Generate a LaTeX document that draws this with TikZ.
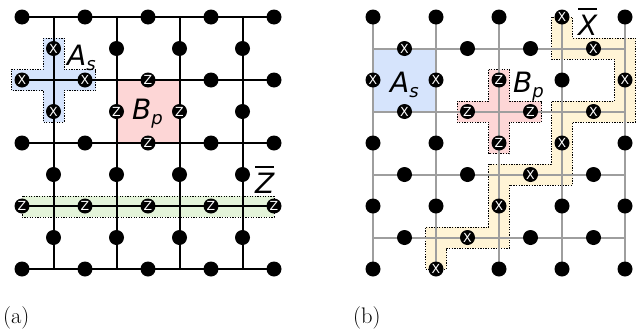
\documentclass[tikz,border=0pt]{standalone}
\usepackage{fontspec}
\newfontfamily\dvs{DejaVu Sans}
\usetikzlibrary{backgrounds}
\definecolor{cblue}{HTML}{D6E4FC}
\definecolor{cpink}{HTML}{FDD6D6}
\definecolor{cgreen}{HTML}{E4F4DA}
\definecolor{cyellow}{HTML}{FFF4D6}
\definecolor{cgray}{HTML}{9E9E9E}
\def\setlab#1#2{\expandafter\def\csname qlab-#1\endcsname{#2}}
\newcommand\qlab[1]{\ifcsname qlab-#1\endcsname\csname qlab-#1\endcsname\fi}
% panel (a)
\setlab{ah10}{X}\setlab{ah11}{X}\setlab{av00}{X}\setlab{av10}{X}
\setlab{ah12}{Z}\setlab{ah22}{Z}\setlab{av11}{Z}\setlab{av12}{Z}
\setlab{ah30}{Z}\setlab{ah31}{Z}\setlab{ah32}{Z}\setlab{ah33}{Z}\setlab{ah34}{Z}
% panel (b)
\setlab{bv03}{X}\setlab{bh00}{X}\setlab{bh03}{X}\setlab{bv10}{X}\setlab{bv11}{X}
\setlab{bv14}{X}\setlab{bh10}{X}\setlab{bh13}{X}\setlab{bv23}{X}\setlab{bh22}{X}
\setlab{bv32}{X}\setlab{bh31}{X}\setlab{bv41}{X}
\setlab{bv12}{Z}\setlab{bh11}{Z}\setlab{bh12}{Z}\setlab{bv22}{Z}
\tikzset{
  qubit/.style={circle, fill=black, minimum size=15pt, inner sep=0pt, text=white,
    font=\dvs\fontsize{12.5}{12.5}\selectfont},
  latA/.style={line width=2pt, draw=black},
  latB/.style={line width=2pt, draw=cgray},
  region/.style={draw=black, line width=0.9pt, dash pattern=on 1.3pt off 1.3pt},
  lbl/.style={anchor=base west, inner sep=0pt, font=\dvs\itshape\fontsize{28}{28}\selectfont},
  capt/.style={anchor=base west, inner sep=0pt, font=\fontsize{22.5}{22.5}\selectfont}
}
\newcommand\sub[1]{\raisebox{-5pt}{\fontsize{18}{18}\selectfont #1}}
\newcommand\obar[1]{\vbox{\hrule height 1.8pt\kern 5pt\hbox{#1}}}
\begin{document}
\begin{tikzpicture}[x=1pt, y=-1pt]
\path[use as bounding box] (0,0) rectangle (641,335);
% ---------- panel (a) qubits
\foreach \rr in {0,...,4}{\foreach \cc in {0,...,4}{
  \node[qubit] (ah\rr\cc) at ({22+63*\cc},{17+63*\rr}) {\qlab{ah\rr\cc}};}}
\foreach \rr in {0,...,3}{\foreach \cc in {0,...,3}{
  \node[qubit] (av\rr\cc) at ({53.5+63*\cc},{48.5+63*\rr}) {\qlab{av\rr\cc}};}}
% ---------- panel (b) qubits
\foreach \rr in {0,...,4}{\foreach \cc in {0,...,4}{
  \node[qubit] (bv\rr\cc) at ({373+63*\cc},{17+63*\rr}) {\qlab{bv\rr\cc}};}}
\foreach \rr in {0,...,3}{\foreach \cc in {0,...,3}{
  \node[qubit] (bh\rr\cc) at ({404.5+63*\cc},{48.5+63*\rr}) {\qlab{bh\rr\cc}};}}
\begin{pgfonlayer}{background}
  % regions (a)
  \fill[cpink] (av11.center |- ah12.center) rectangle (av12.center |- ah22.center);
  \path[fill=cblue, region] (43,38) -- (64,38) -- (64,69.5) -- (95.5,69.5) -- (95.5,90.5)
     -- (64,90.5) -- (64,122) -- (43,122) -- (43,90.5) -- (11.5,90.5) -- (11.5,69.5)
     -- (43,69.5) -- cycle;
  \path[fill=cgreen, region] (22,196) rectangle (274,217);
  % regions (b)
  \fill[cblue] (bv00.center |- bh00.center) rectangle (bv11.center |- bh10.center);
  \path[fill=cpink, region] (488.5,69.5) -- (509.5,69.5) -- (509.5,101) -- (541.5,101)
     -- (541.5,122) -- (509.5,122) -- (509.5,153.5) -- (488.5,153.5) -- (488.5,122)
     -- (457,122) -- (457,101) -- (488.5,101) -- cycle;
  \path[fill=cyellow, region] (551.5,17) -- (551.5,59) -- (614.5,59) -- (614.5,101)
     -- (551.5,101) -- (551.5,164) -- (488.5,164) -- (488.5,227) -- (425.5,227)
     -- (425.5,269) -- (446.5,269) -- (446.5,248) -- (509.5,248) -- (509.5,185)
     -- (572.5,185) -- (572.5,122) -- (635.5,122) -- (635.5,38) -- (572.5,38)
     -- (572.5,17) -- cycle;
  % lattice (a)
  \foreach \rr in {0,...,4}{\draw[latA] (ah\rr0.center) -- (ah\rr4.center);}
  \foreach \cc in {0,...,3}{\draw[latA] (av0\cc.center |- ah00.center) -- (av3\cc.center |- ah40.center);}
  % lattice (b)
  \foreach \cc in {0,...,4}{\draw[latB] (bv0\cc.center) -- (bv4\cc.center);}
  \foreach \rr in {0,...,3}{\draw[latB] (bv00.center |- bh\rr0.center) -- (bv04.center |- bh\rr3.center);}
\end{pgfonlayer}
% labels
\node[lbl] (lAa) at (67,65) {A\sub{s}};
\node[lbl] (lBa) at (132,119) {B\sub{p}};
\node[lbl] (lZ) at (255,193) {\obar{Z}};
\node[lbl] (lAb) at (390,92) {A\sub{s}};
\node[lbl] (lBb) at (513,92) {B\sub{p}};
\node[lbl] (lX) at (578,35) {\obar{X}};
\node[capt] (capa) at (3,323) {(a)};
\node[capt] (capb) at (353,323) {(b)};
\end{tikzpicture}
\end{document}
